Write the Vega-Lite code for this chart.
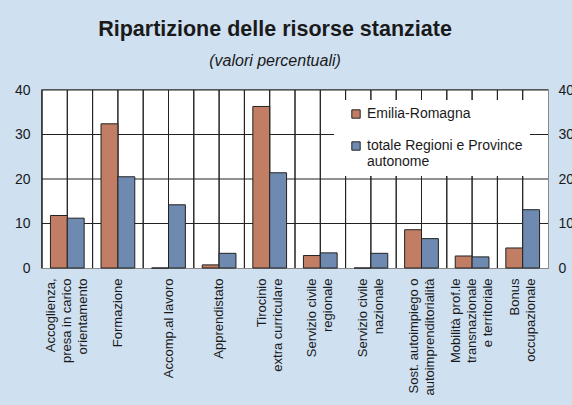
{
  "$schema": "https://vega.github.io/schema/vega-lite/v6.json",
  "width": 506,
  "height": 178,
  "autosize": {"type": "none"},
  "padding": {"left": 42, "top": 90, "right": 24, "bottom": 137},
  "background": "#cfe0f1",
  "title": {
    "text": "Ripartizione delle risorse stanziate",
    "subtitle": "(valori percentuali)",
    "anchor": "middle",
    "dx": -20,
    "offset": 14,
    "font": "Liberation Sans",
    "fontSize": 21.5,
    "fontWeight": "bold",
    "color": "#1a1a1a",
    "subtitleFont": "Liberation Sans",
    "subtitleFontSize": 16,
    "subtitleFontStyle": "italic",
    "subtitleColor": "#1a1a1a",
    "subtitlePadding": 13
  },
  "config": {
    "view": {"stroke": "#8a8a8a", "strokeWidth": 2},
    "font": "Liberation Sans",
    "axisX": {
      "title": null, "orient": "bottom",
      "labelAngle": -90, "labelAlign": "right", "labelBaseline": "middle",
      "labelFontSize": 13, "labelLineHeight": 16, "labelPadding": 10,
      "labelLimit": 300, "labelColor": "#1a1a1a",
      "ticks": false, "domain": false, "grid": false
    }
  },
  "datasets": {
    "risorse": [
      {"categoria": "Accoglienza,\npresa in carico\norientamento", "serie": "Emilia-Romagna", "valore": 11.8},
      {"categoria": "Accoglienza,\npresa in carico\norientamento", "serie": "totale Regioni e Province autonome", "valore": 11.2},
      {"categoria": "Formazione", "serie": "Emilia-Romagna", "valore": 32.4},
      {"categoria": "Formazione", "serie": "totale Regioni e Province autonome", "valore": 20.5},
      {"categoria": "Accomp.al lavoro", "serie": "Emilia-Romagna", "valore": 0},
      {"categoria": "Accomp.al lavoro", "serie": "totale Regioni e Province autonome", "valore": 14.2},
      {"categoria": "Apprendistato", "serie": "Emilia-Romagna", "valore": 0.7},
      {"categoria": "Apprendistato", "serie": "totale Regioni e Province autonome", "valore": 3.3},
      {"categoria": "Tirocinio\nextra curriculare", "serie": "Emilia-Romagna", "valore": 36.3},
      {"categoria": "Tirocinio\nextra curriculare", "serie": "totale Regioni e Province autonome", "valore": 21.4},
      {"categoria": "Servizio civile\nregionale", "serie": "Emilia-Romagna", "valore": 2.8},
      {"categoria": "Servizio civile\nregionale", "serie": "totale Regioni e Province autonome", "valore": 3.4},
      {"categoria": "Servizio civile\nnazionale", "serie": "Emilia-Romagna", "valore": 0},
      {"categoria": "Servizio civile\nnazionale", "serie": "totale Regioni e Province autonome", "valore": 3.3},
      {"categoria": "Sost. autoimpiego o\nautoimprenditorialità", "serie": "Emilia-Romagna", "valore": 8.6},
      {"categoria": "Sost. autoimpiego o\nautoimprenditorialità", "serie": "totale Regioni e Province autonome", "valore": 6.6},
      {"categoria": "Mobilità prof.le\ntransnazionale\ne territoriale", "serie": "Emilia-Romagna", "valore": 2.7},
      {"categoria": "Mobilità prof.le\ntransnazionale\ne territoriale", "serie": "totale Regioni e Province autonome", "valore": 2.5},
      {"categoria": "Bonus\noccupazionale", "serie": "Emilia-Romagna", "valore": 4.5},
      {"categoria": "Bonus\noccupazionale", "serie": "totale Regioni e Province autonome", "valore": 13.1}
    ],
    "griglia": [
      {"livello": 10}, {"livello": 20}, {"livello": 30}, {"livello": 40}
    ]
  },
  "data": {"name": "risorse"},
  "layer": [
    {
      "mark": {"type": "bar", "fill": "white", "stroke": null},
      "encoding": {
        "x": {
          "field": "categoria", "type": "nominal", "sort": null,
          "scale": {"paddingInner": 0, "paddingOuter": 0},
          "axis": {
            "labelExpr": "split(datum.label, '\\n')",
            "labelOffset": {"expr": "-(length(split(datum.value, '\\n')) - 1) * 8"}
          }
        },
        "y": {"datum": 40, "type": "quantitative", "axis": null},
        "y2": {"datum": 0}
      }
    },
    {
      "mark": {"type": "rule", "color": "#222222", "strokeWidth": 1},
      "encoding": {
        "x": {
          "field": "categoria", "type": "nominal", "sort": null, "bandPosition": 0,
          "axis": {
            "labelExpr": "split(datum.label, '\\n')",
            "labelOffset": {"expr": "-(length(split(datum.value, '\\n')) - 1) * 8"}
          }
        }
      }
    },
    {
      "mark": {"type": "rule", "color": "#222222", "strokeWidth": 1},
      "encoding": {
        "x": {
          "field": "categoria", "type": "nominal", "sort": null, "bandPosition": 0.5,
          "axis": {
            "labelExpr": "split(datum.label, '\\n')",
            "labelOffset": {"expr": "-(length(split(datum.value, '\\n')) - 1) * 8"}
          }
        }
      }
    },
    {
      "data": {"name": "griglia"},
      "mark": {"type": "rule", "color": "#222222", "strokeWidth": 1},
      "encoding": {
        "y": {
          "field": "livello", "type": "quantitative",
          "axis": {
            "title": null, "orient": "right", "values": [0, 10, 20, 30, 40],
            "labelFontSize": 14, "labelPadding": 10, "labelColor": "#1a1a1a",
            "ticks": false, "domain": false, "grid": false
          }
        }
      }
    },
    {
      "mark": {"type": "bar", "stroke": "#222222", "strokeWidth": 1},
      "encoding": {
        "x": {
          "field": "categoria", "type": "nominal", "sort": null,
          "axis": {
            "labelExpr": "split(datum.label, '\\n')",
            "labelOffset": {"expr": "-(length(split(datum.value, '\\n')) - 1) * 8"}
          }
        },
        "xOffset": {
          "field": "serie", "type": "nominal",
          "sort": ["Emilia-Romagna", "totale Regioni e Province autonome"],
          "scale": {"paddingInner": 0, "paddingOuter": 0.5}
        },
        "y": {
          "field": "valore", "type": "quantitative",
          "scale": {"domain": [0, 40], "nice": false},
          "axis": {
            "title": null, "orient": "left", "values": [0, 10, 20, 30, 40],
            "labelFontSize": 14, "labelPadding": 12, "labelColor": "#1a1a1a",
            "ticks": false, "domain": false, "grid": false
          }
        },
        "color": {
          "field": "serie", "type": "nominal",
          "sort": ["Emilia-Romagna", "totale Regioni e Province autonome"],
          "scale": {"range": ["#c27e64", "#6e8ab0"]},
          "legend": {
            "title": null, "orient": "none", "legendX": 292, "legendY": 10,
            "fillColor": "white", "padding": 7, "symbolOffset": 8,
            "symbolType": "square", "symbolSize": 70,
            "symbolStrokeColor": "#222222", "symbolStrokeWidth": 1,
            "labelFontSize": 14, "labelColor": "#1a1a1a", "labelLimit": 300,
            "labelLineHeight": 14, "rowPadding": 18,
            "labelExpr": "datum.label == 'totale Regioni e Province autonome' ? ['totale Regioni e Province', 'autonome'] : datum.label"
          }
        }
      }
    }
  ],
  "resolve": {"axis": {"y": "independent"}}
}
